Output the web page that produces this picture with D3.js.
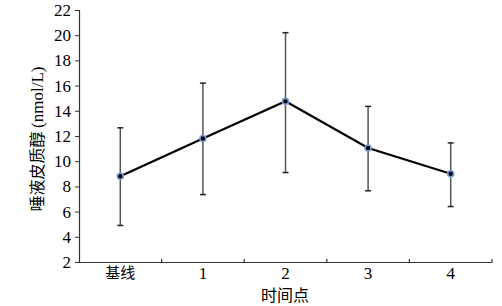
<!DOCTYPE html>
<html>
<head>
<meta charset="utf-8">
<script src="https://cdn.jsdelivr.net/npm/d3@7"></script>
<style>
body { margin: 0; background: #fff; }
.serif { font-family: "Liberation Serif", "Times New Roman", "DejaVu Serif", serif; }
.cjk { font-family: "Noto Sans CJK SC", sans-serif; }
</style>
</head>
<body>
<div id="chart"></div>
<script>
var categories = ["基线", "1", "2", "3", "4"];
var means = [8.8, 11.8, 14.75, 11.05, 9.0];
var upper = [12.65, 16.2, 20.2, 14.35, 11.45];
var lower = [4.9, 7.35, 9.1, 7.65, 6.4];
var yTicks = [2, 4, 6, 8, 10, 12, 14, 16, 18, 20, 22];

var width = 502, height = 306;
var mLeft = 79, mRight = 492, mTop = 10, mBottom = 262;

var svg = d3.select("#chart").append("svg").attr("width", width).attr("height", height);

var x = d3.scaleBand().domain(categories).range([mLeft, mRight]);
var y = d3.scaleLinear().domain([2, 22]).range([mBottom, mTop]);

// y axis
var yAxis = svg.append("g").attr("transform", "translate(" + mLeft + ",0)")
    .call(d3.axisLeft(y).tickValues(yTicks).tickSize(4).tickPadding(4));
yAxis.attr("font-family", null);
yAxis.select(".domain").attr("stroke", "#333").attr("stroke-width", 1.2);
yAxis.selectAll(".tick line").attr("stroke", "#333");
yAxis.selectAll("text").attr("class", "serif").attr("font-size", 17).attr("fill", "#000");

// x axis
var xAxis = svg.append("g").attr("transform", "translate(0," + mBottom + ")")
    .call(d3.axisBottom(x).tickSize(0).tickPadding(5));
xAxis.attr("font-family", null);
xAxis.select(".domain").attr("stroke", "#333").attr("stroke-width", 1.2);
xAxis.selectAll("text").attr("class", function(d) { return d === "基线" ? "cjk" : "serif"; })
    .attr("font-size", function(d) { return d === "基线" ? 15 : 17; }).attr("fill", "#000");
// boundary tick marks
xAxis.selectAll(".bound").data(categories).enter().append("line")
    .attr("x1", function(d) { return x(d) + x.bandwidth(); })
    .attr("x2", function(d) { return x(d) + x.bandwidth(); })
    .attr("y1", -3).attr("y2", 0).attr("stroke", "#333").attr("stroke-width", 1.2);

// axis titles
svg.append("text").attr("class", "cjk").attr("x", 285).attr("y", 301).attr("text-anchor", "middle")
    .attr("font-size", 16).text("时间点");
var yt = svg.append("text").attr("transform", "translate(43,139) rotate(-90)").attr("text-anchor", "middle")
    .attr("font-size", 16);
yt.append("tspan").attr("class", "cjk").text("唾液皮质醇 ");
yt.append("tspan").attr("class", "serif").attr("font-size", 17).text("(nmol/L)");

var cx = function(i) { return x(categories[i]) + x.bandwidth() / 2; };

// error bars
var eb = svg.append("g").selectAll("g").data(means).enter().append("g");
eb.append("line").attr("x1", function(d, i) { return cx(i); }).attr("x2", function(d, i) { return cx(i); })
    .attr("y1", function(d, i) { return y(upper[i]); }).attr("y2", function(d, i) { return y(lower[i]); })
    .attr("stroke", "#555").attr("stroke-width", 1.5);
eb.append("line").attr("x1", function(d, i) { return cx(i) - 3; }).attr("x2", function(d, i) { return cx(i) + 3; })
    .attr("y1", function(d, i) { return y(upper[i]); }).attr("y2", function(d, i) { return y(upper[i]); })
    .attr("stroke", "#222").attr("stroke-width", 1.5);
eb.append("line").attr("x1", function(d, i) { return cx(i) - 3; }).attr("x2", function(d, i) { return cx(i) + 3; })
    .attr("y1", function(d, i) { return y(lower[i]); }).attr("y2", function(d, i) { return y(lower[i]); })
    .attr("stroke", "#222").attr("stroke-width", 1.5);

// mean line
var line = d3.line().x(function(d, i) { return cx(i); }).y(function(d) { return y(d); });
svg.append("path").datum(means).attr("fill", "none").attr("stroke", "#000").attr("stroke-width", 2.2).attr("d", line);

// markers
svg.append("g").selectAll("circle").data(means).enter().append("circle")
    .attr("cx", function(d, i) { return cx(i); }).attr("cy", function(d) { return y(d); })
    .attr("r", 3).attr("fill", "#000").attr("stroke", "#7a9fd8").attr("stroke-width", 1.6);
</script>
</body>
</html>
